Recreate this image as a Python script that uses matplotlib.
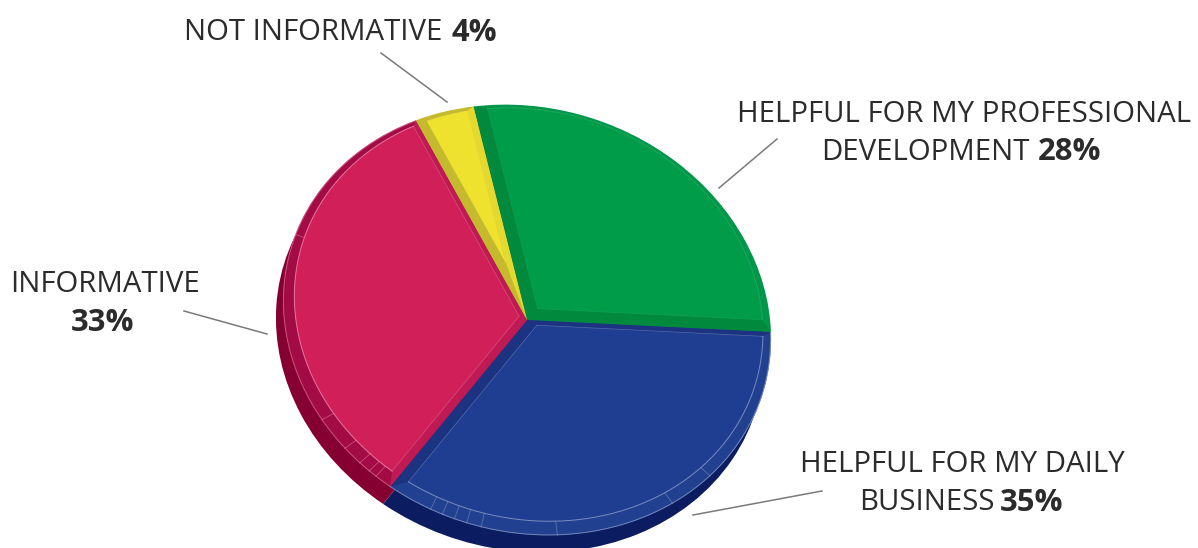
import numpy as np
import matplotlib
matplotlib.use("Agg")
import matplotlib.pyplot as plt
from matplotlib.patches import Polygon
from matplotlib.transforms import Affine2D

categories = ["HELPFUL FOR MY PROFESSIONAL DEVELOPMENT", "HELPFUL FOR MY DAILY BUSINESS",
              "INFORMATIVE", "NOT INFORMATIVE"]
values = [28, 35, 33, 4]
value_labels = ["28%", "35%", "33%", "4%"]

side_colors = ["#078a40", "#0c1c60", "#850030", "#c5b92d"]
rim_colors = ["#01964a", "#21408f", "#a30b45", "#c5b92d"]
start_bevel = ["#018a3e", "#1b3380", "#c01a55", "#c5b92d"]
end_bevel = ["#018a3e", "#1b3380", "#c01a55", "#e5d92e"]
face_colors = ["#009c4a", "#1f3d91", "#d11f5a", "#efe22f"]
edge_light = ["#4fc07f", "#8fa0cc", "#ee8fae", "#e8dd60"]
edge_alpha = [0.35, 0.8, 0.8, 0.3]
outer_alpha = [0.0, 0.75, 0.55, 0.0]
# bevel widths (unit-circle units) on the clockwise-start and clockwise-end radial edges
start_w = [0.055, 0.022, 0.035, 0.04]
end_w = [0.055, 0.045, 0.022, 0.028]
# small facet marks on the rim, as angles on the unit circle
blue_rim_marks = [-116, -113, -110, -107, -103.5, -85.5, -56, -44]
red_rim_marks = [-150, -141, -136, -133, -131, 159]

plt.rcParams["font.family"] = ["Open Sans", "DejaVu Sans"]
fig = plt.figure(figsize=(11.98, 5.48), dpi=100)
ax = fig.add_axes([0, 0, 1, 1])

CX, CY = 527, 320
M = Affine2D.from_values(243.8, 9.0, -11.4, -215.2, CX, CY)  # unit circle -> pixels (y down)


def draw_pie(dx=0, dy=0, colors=None, z=1):
    wedges, _ = ax.pie(values, startangle=100, counterclock=False, colors=colors,
                       radius=1, wedgeprops=dict(linewidth=0))
    tr = M + Affine2D().translate(dx, dy) + ax.transData
    for w in wedges:
        w.set_transform(tr)
        w.set_zorder(z)
    return wedges


# extruded side, then outer rim
draw_pie(-7, 17, side_colors, 1)
base = draw_pie(0, 0, rim_colors, 2)
ax.set_xlim(0, 1198)
ax.set_ylim(548, 0)
ax.set_aspect("auto")
ax.axis("off")

tr = M + ax.transData
R_IN = 0.96
C_IN = np.array([0.008, 0.026])


def u(t):
    return np.array([np.cos(np.radians(t)), np.sin(np.radians(t))])


def hit(p, d):
    """Point where ray p + s*d meets the inner rim circle."""
    q = p - C_IN
    b = q @ d
    return p + (-b + np.sqrt(b * b - (q @ q - R_IN ** 2))) * d


for i, w in enumerate(base):
    t_a, t_b = w.theta1, w.theta2              # counter-clockwise limits
    # clockwise pie: theta2 edge is the slice's start edge
    us, ue = u(t_b), u(t_a)
    ns, ne = np.array([us[1], -us[0]]), np.array([-ue[1], ue[0]])   # inward normals
    A = np.array([ns, ne])
    corner = np.linalg.solve(A, np.array([start_w[i], end_w[i]]))
    qs, qe = hit(corner, us), hit(corner, ue)
    a0 = np.arctan2(*(qe - C_IN)[::-1])
    a1 = np.arctan2(*(qs - C_IN)[::-1])
    if a1 < a0:
        a1 += 2 * np.pi
    arc = np.array([C_IN + R_IN * np.array([np.cos(a), np.sin(a)])
                    for a in np.linspace(a0, a1, 160)])
    origin = np.zeros(2)
    ax.add_patch(Polygon([origin, us, qs, corner], closed=True, fc=start_bevel[i], lw=0,
                         transform=tr, zorder=3))
    ax.add_patch(Polygon([origin, ue, qe, corner], closed=True, fc=end_bevel[i], lw=0,
                         transform=tr, zorder=3))
    ax.add_patch(Polygon(np.vstack([corner, arc]), closed=True, fc=face_colors[i], lw=0,
                         transform=tr, zorder=4))
    # thin highlight lines on the bevel edges
    ax.plot(arc[:, 0], arc[:, 1], color=edge_light[i], lw=0.7, alpha=edge_alpha[i],
            transform=tr, zorder=5)
    for p in (qs, qe):
        ax.plot([corner[0], p[0]], [corner[1], p[1]], color=edge_light[i], lw=0.5,
                alpha=edge_alpha[i] * 0.6, transform=tr, zorder=5)
    if outer_alpha[i] > 0:
        th = np.radians(np.linspace(t_a, t_b, 160))
        ax.plot(0.998 * np.cos(th), 0.998 * np.sin(th), color=edge_light[i], lw=0.7,
                alpha=outer_alpha[i], transform=tr, zorder=5)

for marks, col in ((blue_rim_marks, edge_light[1]), (red_rim_marks, edge_light[2])):
    for t in marks:
        p1 = u(t)
        d = p1 - C_IN
        p0 = C_IN + R_IN * d / np.linalg.norm(d)
        ax.plot([p0[0], p1[0]], [p0[1], p1[1]], color=col, lw=0.6, alpha=0.5,
                transform=tr, zorder=5)

TXT = "#2b2b2b"
FS = 21.15
FSB = 22.3


def reg(x, y, s, ha="left"):
    ax.text(x, y, s, fontsize=FS, color=TXT, ha=ha, va="center", zorder=6)


def bold(x, y, s, ha="left"):
    ax.text(x, y, s, fontsize=FSB, color=TXT, ha=ha, va="center", fontweight="bold", zorder=6)


reg(184, 33, categories[3])
bold(451, 33, value_labels[3])
reg(737, 114, "HELPFUL FOR MY PROFESSIONAL")
reg(821, 152, "DEVELOPMENT")
bold(1038, 152, value_labels[0])
reg(10, 285, categories[2])
bold(71, 323, value_labels[2])
reg(800, 464, "HELPFUL FOR MY DAILY")
reg(859, 503, "BUSINESS")
bold(1000, 503, value_labels[1])

for xs, ys in [((381, 447), (53, 102)), ((777, 719), (139, 188)),
               ((184, 267), (311, 334)), ((822, 693), (491, 515))]:
    ax.plot(xs, ys, color="#7a7a7a", lw=1.1, zorder=6)

fig.savefig("out.png", dpi=100)
